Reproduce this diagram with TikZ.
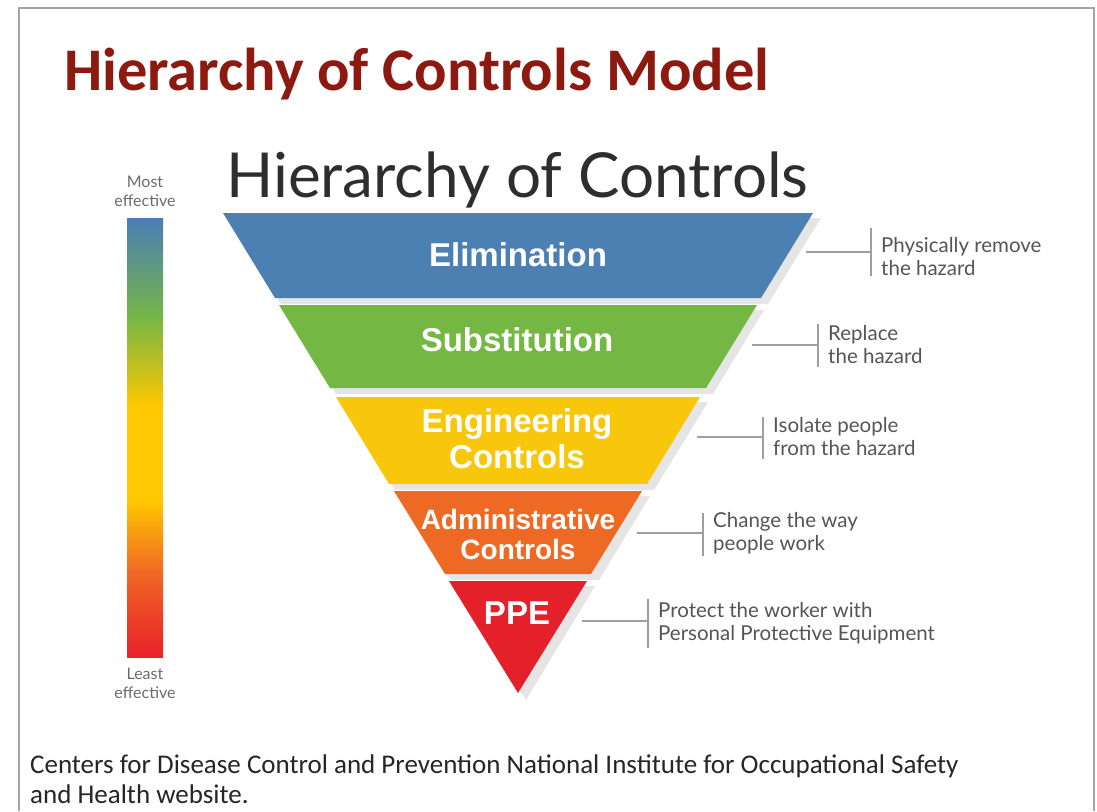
\documentclass[tikz,border=0pt]{standalone}
\usepackage{fontspec}
\setmainfont{Carlito}
\newfontfamily\gothfont{Lato}
\newfontfamily\armfont{Liberation Sans}
\usetikzlibrary{positioning}

\definecolor{titlered}{HTML}{8C1A11}
\definecolor{headgray}{HTML}{2E2E2E}
\definecolor{notegray}{HTML}{555555}
\definecolor{framegray}{HTML}{A6A6A6}
\definecolor{elimblue}{HTML}{4C80B3}
\definecolor{subgreen}{HTML}{74B743}
\definecolor{enggold}{HTML}{F8C70C}
\definecolor{admorange}{HTML}{EE6A24}
\definecolor{ppered}{HTML}{E4212B}
\definecolor{barblue}{HTML}{4A7EB5}
\definecolor{bargreen}{HTML}{76B744}
\definecolor{baryellow}{HTML}{FFC800}
\definecolor{barorange}{HTML}{F06A24}
\definecolor{barred}{HTML}{E8212A}

\begin{document}
\begin{tikzpicture}[x=1pt,y=-1pt,
  bandshadow/.style={fill=black,opacity=0.10},
  bandlabel/.style={text=white,font=\armfont\bfseries\fontsize{33}{36}\selectfont,align=center,inner sep=0pt},
  smalllabel/.style={bandlabel,font=\armfont\bfseries\fontsize{28}{30}\selectfont},
  lead/.style={draw=gray!75,line width=1.3pt},
  note/.style={text=notegray,font=\gothfont\fontsize{20.5}{23}\selectfont,align=left,inner sep=0pt},
  barlabel/.style={text=gray!85!black,font=\gothfont\fontsize{16}{19}\selectfont,align=center,inner sep=0pt}]
\useasboundingbox[fill=white] (0,0) rectangle (1097,811);
\draw[framegray,line width=2pt] (19,811) -- (19,8) -- (1094,8) -- (1094,811);

% headings
\node[anchor=base west,inner sep=0pt,text=titlered,font=\bfseries\fontsize{60.5}{62}\selectfont] (title) at (64,90) {Hierarchy of Controls Model};
\node[anchor=base west,inner sep=0pt,text=headgray,font=\gothfont\fontsize{62}{64}\selectfont] (subtitle) at (226,197) {Hierarchy of Controls};

% scale bar
\coordinate (bartop) at (145,218);
\coordinate (barbot) at (145,657);
\shade[top color=barblue,bottom color=bargreen] (127,218) rectangle (163,319);
\shade[top color=bargreen,bottom color=baryellow] (127,318) rectangle (163,406);
\fill[baryellow] (127,405) rectangle (163,501);
\shade[top color=baryellow,bottom color=barorange] (127,500) rectangle (163,571);
\shade[top color=barorange,bottom color=barred] (127,570) rectangle (163,657);
\node[barlabel,above=11pt of bartop] (most) {Most\\effective};
\node[barlabel,below=11pt of barbot] (least) {Least\\effective};

% shadows
\fill[bandshadow] (229,218) -- (821,218) -- (768,304) -- (281,304) -- cycle;
\fill[bandshadow] (285,310) -- (764,310) -- (713,394) -- (336,394) -- cycle;
\fill[bandshadow] (342,402) -- (708,402) -- (654,490) -- (395,490) -- cycle;
\fill[bandshadow] (400,496) -- (650,496) -- (599,580) -- (451,580) -- cycle;
\fill[bandshadow] (455,586) -- (595,586) -- (526,700) -- cycle;

% bands
\fill[elimblue] (223,213) -- (813,213) -- (761,298) -- (275,298) -- cycle;
\fill[subgreen] (279,305) -- (757,305) -- (706,388) -- (330,388) -- cycle;
\fill[enggold] (336,397) -- (700,397) -- (647,484) -- (389,484) -- cycle;
\fill[admorange] (394,491) -- (642,491) -- (591,574) -- (445,574) -- cycle;
\fill[ppered] (449,581) -- (587,581) -- (518,693) -- cycle;

\node[bandlabel] (elim) at (518,255) {Elimination};
\node[bandlabel] (subst) at (517,340) {Substitution};
\node[bandlabel] (eng) at (517,439) {Engineering\\Controls};
\node[smalllabel] (admin) at (518,534) {Administrative\\Controls};
\node[bandlabel] (ppe) at (517,613) {PPE};

% leads and notes
\coordinate (elimlead) at (806,252);
\draw[lead] (elimlead) -- ++(65,0) coordinate (elimjoin);
\draw[lead] ([yshift=24pt]elimjoin) -- ([yshift=-24pt]elimjoin);
\node[note,right=10pt of elimjoin,yshift=-5pt] (elimnote) {Physically remove\\the hazard};

\coordinate (substlead) at (752,345);
\draw[lead] (substlead) -- ++(66,0) coordinate (substjoin);
\draw[lead] ([yshift=21pt]substjoin) -- ([yshift=-22pt]substjoin);
\node[note,right=10pt of substjoin] (substnote) {Replace\\the hazard};

\coordinate (englead) at (697,437);
\draw[lead] (englead) -- ++(66,0) coordinate (engjoin);
\draw[lead] ([yshift=20pt]engjoin) -- ([yshift=-22pt]engjoin);
\node[note,right=10pt of engjoin] (engnote) {Isolate people\\from the hazard};

\coordinate (adminlead) at (637,533);
\draw[lead] (adminlead) -- ++(66,0) coordinate (adminjoin);
\draw[lead] ([yshift=20pt]adminjoin) -- ([yshift=-23pt]adminjoin);
\node[note,right=10pt of adminjoin] (adminnote) {Change the way\\people work};

\coordinate (ppelead) at (582,621);
\draw[lead] (ppelead) -- ++(66,0) coordinate (ppejoin);
\draw[lead] ([yshift=22pt]ppejoin) -- ([yshift=-27pt]ppejoin);
\node[note,right=10pt of ppejoin,yshift=-2pt] (ppenote) {Protect the worker with\\Personal Protective Equipment};

% source
\node[anchor=base west,inner sep=0pt,align=left,font=\fontsize{27}{30}\selectfont,text=black!85] (source) at (30,803) {Centers for Disease Control and Prevention National Institute for Occupational Safety\\and Health website.};
\end{tikzpicture}
\end{document}
